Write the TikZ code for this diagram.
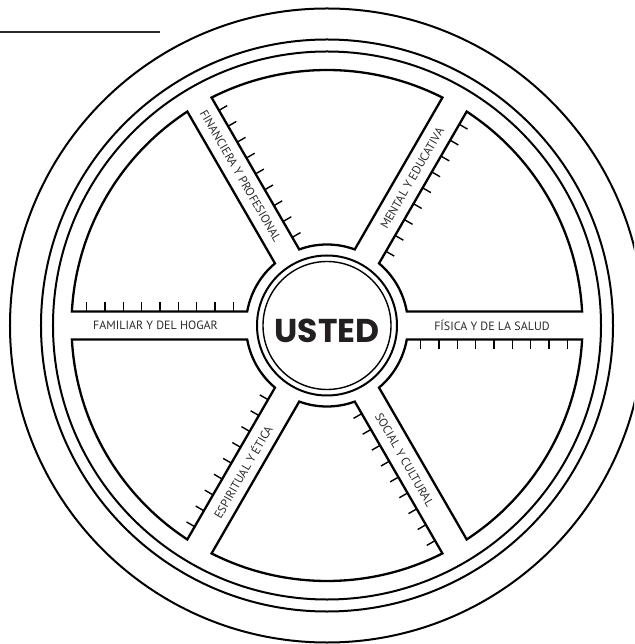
\documentclass[tikz,border=0pt]{standalone}
\usepackage{fontspec}
\setmainfont{PT Sans}
\newfontfamily\ustedfont{Poppins}
\definecolor{labelgray}{HTML}{2B2B2B}
\definecolor{ustedgray}{HTML}{231F20}
\tikzset{
  ring/.style={line width=2pt},
  sectorline/.style={line width=2.3pt, line join=miter},
  tickline/.style={line width=1.4pt},
  spokelabel/.style={font=\fontsize{12}{13}\selectfont, text=labelgray, inner sep=0pt},
  rulerline/.style={line width=2pt, draw=labelgray}
}
\begin{document}
\begin{tikzpicture}[x=1pt,y=1pt]
\useasboundingbox (-327,-318.5) rectangle (307,325.5);
\clip (-327,-318.5) rectangle (307,325.5);
% ruler line top left
\coordinate (rl) at (-327,293.2);
\coordinate (rr) at (-167,293.2);
\draw[rulerline] (rl) -- (rr);
% outer rings
\draw[ring] (0,0) circle (317);
\draw[ring] (0,0) circle (286);
\draw[ring] (0,0) circle (274);
% sectors
\foreach \a in {0,60,...,300} {
  \draw[sectorline] (\a+3.141:255.5) arc[start angle=\a+3.141, end angle=\a+56.859, radius=255.5]
     -- (\a+50.05:81) arc[start angle=\a+50.05, end angle=\a+9.95, radius=81] -- cycle;
  \foreach \k in {0,...,8} {
    \draw[tickline, rotate=\a] (93.7+18.33*\k,-14) -- (93.7+18.33*\k,-23.5);
  }
}
% center
\draw[line width=2pt] (0,0) circle (70);
\node[circle, draw, line width=1.4pt, minimum size=128pt, inner sep=0pt] (usted) at (0,0) {};
\node[font=\ustedfont\bfseries\fontsize{33}{34}\selectfont, text=ustedgray, inner sep=0pt] (ustedtext) at (0,-5) {USTED};
% labels
\node[spokelabel] (fam) at (180:171.5) {FAMILIAR Y DEL HOGAR};
\node[spokelabel] (fis) at (0:165) {FÍSICA Y DE LA SALUD};
\node[spokelabel, rotate=60] (men) at (60:170) {MENTAL Y EDUCATIVA};
\node[spokelabel, rotate=-60] (fin) at (120:172.7) {FINANCIERA Y PROFESIONAL};
\node[spokelabel, rotate=60] (esp) at (240:169) {ESPIRITUAL Y ÉTICA};
\node[spokelabel, rotate=-60] (soc) at (300:155) {SOCIAL Y CULTURAL};
\end{tikzpicture}
\end{document}
